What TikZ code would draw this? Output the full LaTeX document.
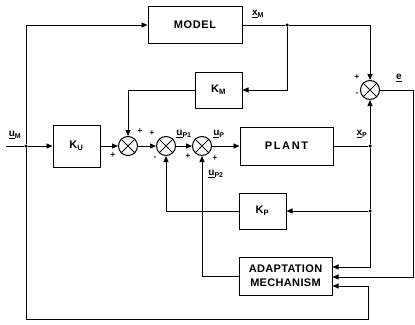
\documentclass[tikz,border=0pt]{standalone}
\usepackage{fontspec}
\setmainfont{Liberation Sans}
\usetikzlibrary{arrows.meta}
\begin{document}
\begin{tikzpicture}[x=1pt,y=-1pt,
  blk/.style={draw, line width=1pt, inner sep=0pt, font=\bfseries\fontsize{11}{14}\selectfont, align=center},
  sumj/.style={draw, circle, line width=1pt, minimum size=19pt, inner sep=0pt,
    path picture={\draw[line width=0.8pt] (path picture bounding box.north west)--(path picture bounding box.south east) (path picture bounding box.north east)--(path picture bounding box.south west);}},
  wire/.style={line width=0.9pt},
  arr/.style={wire, -{Triangle[length=6pt,width=5pt]}},
  dot/.style={circle, fill, inner sep=0pt, minimum size=3.5pt},
  lbl/.style={font=\bfseries\fontsize{10}{11}\selectfont, inner sep=0pt},
  sgn/.style={font=\bfseries\fontsize{8}{9}\selectfont, inner sep=0pt}]
\useasboundingbox (0,0) rectangle (415,324);

% blocks
\node[blk, minimum width=94pt, minimum height=37pt] (model) at (195,25) {\addfontfeature{LetterSpace=6}MODEL};
\node[blk, minimum width=47pt, minimum height=36pt] (km) at (218.5,90) {K\textsubscript{M}};
\node[blk, minimum width=47pt, minimum height=42pt] (ku) at (76.5,146) {K\textsubscript{U}};
\node[blk, minimum width=93pt, minimum height=38pt] (plant) at (286.5,146) {\addfontfeature{LetterSpace=15}PLANT};
\node[blk, minimum width=47pt, minimum height=36pt] (kp) at (262.5,211) {K\textsubscript{P}};
\node[blk, minimum width=93pt, minimum height=38pt] (adapt) at (285.5,276) {\addfontfeature{LetterSpace=3}ADAPTATION\\\addfontfeature{LetterSpace=3}MECHANISM};

% summing junctions
\node[sumj] (s1) at (128,146) {};
\node[sumj] (s2) at (166,146) {};
\node[sumj] (s3) at (202,146) {};
\node[sumj] (se) at (370,90) {};

% junctions and coordinates
\coordinate (in0) at (6,146);
\node[dot] (jm) at (26,146) {};
\node[dot] (xm) at (287,25) {};
\node[dot] (xp) at (370,146) {};
\node[dot] (kpj) at (370,211) {};
\coordinate (bl) at (26,319);
\coordinate (br) at (368,319);
\coordinate (eo) at (413,90);
\coordinate (a1) at (adapt.east |- 0,267);
\coordinate (a2) at (adapt.east |- 0,277);
\coordinate (a3) at (adapt.east |- 0,286);

% connectors
\draw[wire] (in0) -- (jm);
\draw[arr] (jm) -- (ku);
\draw[arr] (jm) |- (model);
\draw[arr] (jm) -- (bl) -- (br) |- (a3);
\draw[arr] (ku) -- (s1);
\draw[arr] (s1) -- (s2);
\draw[arr] (s2) -- (s3);
\draw[arr] (s3) -- (plant);
\draw[wire] (plant) -- (xp);
\draw[arr] (xp) -- (se);
\draw[wire] (xp) -- (kpj);
\draw[arr] (kpj) -- (kp);
\draw[arr] (kpj) |- (a1);
\draw[arr] (se) -- (eo) |- (a2);
\draw[wire] (model) -- (xm);
\draw[arr] (xm) -| (se);
\draw[arr] (xm) |- (km);
\draw[arr] (km) -| (s1);
\draw[arr] (kp) -| (s2);
\draw[arr] (adapt) -| (s3);

% labels
\node[lbl] at (15,135) {\underline{u}\textsubscript{M}};
\node[lbl] at (258,14) {\underline{x}\textsubscript{M}};
\node[lbl] at (399,78) {\underline{e}};
\node[lbl] at (184,134) {\underline{u}\textsubscript{P1}};
\node[lbl] at (219,134) {\underline{u}\textsubscript{P}};
\node[lbl] at (362,134) {\underline{x}\textsubscript{P}};
\node[lbl] at (216,174) {\underline{u}\textsubscript{P2}};

% signs
\node[sgn] at (140,131) {+};
\node[sgn] at (113,155) {+};
\node[sgn] at (152,133) {+};
\node[sgn] at (155,158) {-};
\node[sgn] at (188,156) {+};
\node[sgn] at (215,158) {+};
\node[sgn] at (357,77) {+};
\node[sgn] at (357,94) {-};
\end{tikzpicture}
\end{document}
